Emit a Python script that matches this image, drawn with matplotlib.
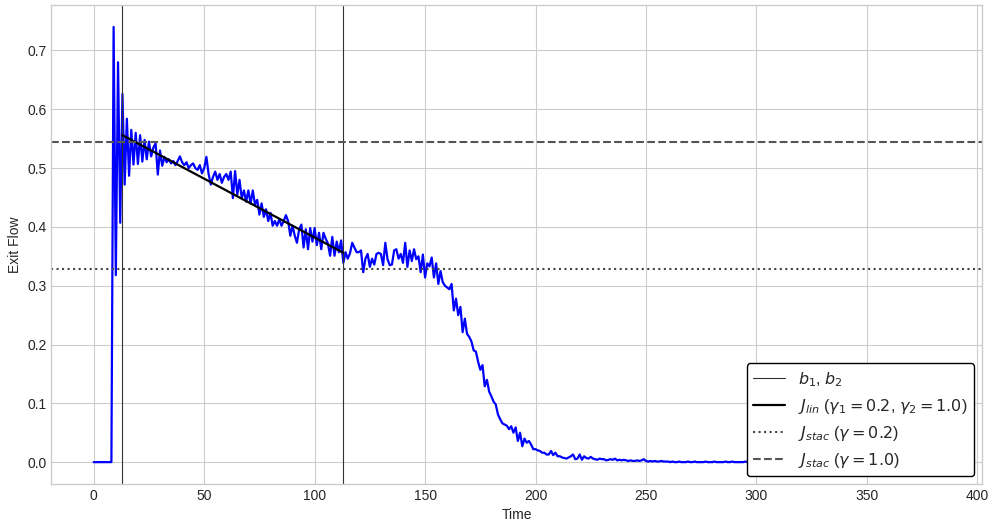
import numpy as np
import matplotlib
matplotlib.use("Agg")
import matplotlib.pyplot as plt

# exit flow per time step (t = 0, 1, 2, ...)
exit_flow = [
    0.0, 0.0, 0.0, 0.0, 0.0, 0.0, 0.0, 0.0, 0.0, 0.74,
    0.318, 0.68, 0.407, 0.626, 0.472, 0.584, 0.487, 0.565, 0.506, 0.560,
    0.507, 0.556, 0.511, 0.548, 0.515, 0.545, 0.520, 0.535, 0.542, 0.489,
    0.530, 0.504, 0.519, 0.510, 0.515, 0.508, 0.512, 0.505, 0.512, 0.520,
    0.510, 0.505, 0.510, 0.500, 0.505, 0.508, 0.500, 0.497, 0.505, 0.491,
    0.500, 0.519, 0.490, 0.472, 0.485, 0.494, 0.480, 0.490, 0.475, 0.485,
    0.490, 0.480, 0.494, 0.449, 0.495, 0.455, 0.480, 0.449, 0.462, 0.443,
    0.462, 0.440, 0.462, 0.438, 0.446, 0.421, 0.440, 0.417, 0.430, 0.410,
    0.424, 0.402, 0.410, 0.402, 0.413, 0.402, 0.410, 0.420, 0.410, 0.385,
    0.402, 0.385, 0.373, 0.396, 0.404, 0.365, 0.396, 0.362, 0.398, 0.375,
    0.398, 0.369, 0.390, 0.362, 0.390, 0.380, 0.372, 0.351, 0.383, 0.351,
    0.375, 0.357, 0.377, 0.339, 0.357, 0.346, 0.355, 0.373, 0.365, 0.357,
    0.357, 0.360, 0.323, 0.346, 0.354, 0.332, 0.346, 0.336, 0.354, 0.356,
    0.354, 0.335, 0.373, 0.345, 0.335, 0.336, 0.360, 0.362, 0.346, 0.354,
    0.339, 0.373, 0.332, 0.360, 0.342, 0.362, 0.345, 0.350, 0.323, 0.353,
    0.314, 0.338, 0.333, 0.348, 0.314, 0.338, 0.303, 0.325, 0.306, 0.300,
    0.297, 0.294, 0.303, 0.258, 0.278, 0.250, 0.264, 0.221, 0.244, 0.218,
    0.213, 0.205, 0.190, 0.188, 0.171, 0.157, 0.165, 0.129, 0.140, 0.120,
    0.112, 0.103, 0.098, 0.081, 0.073, 0.066, 0.064, 0.062, 0.056, 0.061,
    0.050, 0.059, 0.036, 0.050, 0.027, 0.040, 0.033, 0.036, 0.030, 0.022,
    0.022, 0.020, 0.019, 0.016, 0.016, 0.013, 0.013, 0.019, 0.012, 0.016,
    0.010, 0.010, 0.008, 0.007, 0.006, 0.008, 0.010, 0.013, 0.005, 0.006,
    0.013, 0.004, 0.010, 0.007, 0.006, 0.009, 0.006, 0.005, 0.004, 0.006,
    0.005, 0.005, 0.003, 0.004, 0.005, 0.004, 0.006, 0.003, 0.004, 0.003,
    0.004, 0.003, 0.002, 0.003, 0.002, 0.002, 0.003, 0.002, 0.003, 0.005,
    0.002, 0.001, 0.002, 0.001, 0.002, 0.001, 0.001, 0.002, 0.001, 0.001,
    0.001, 0.000, 0.001, 0.000, 0.000, 0.001, 0.000, 0.000, 0.000, 0.001,
    0.000, 0.000, 0.001, 0.000, 0.000, 0.000, 0.000, 0.001, 0.000, 0.000,
    0.000, 0.001, 0.000, 0.000, 0.000, 0.000, 0.001, 0.000, 0.000, 0.001,
    0.000, 0.000, 0.000, 0.000, 0.000, 0.001, 0.000, 0.000, 0.000, 0.000,
    0.000, 0.000, 0.001, 0.000, 0.000, 0.000, 0.000, 0.000, 0.000, 0.000,
    0.001, 0.000, 0.000, 0.000, 0.000, 0.000, 0.000, 0.000, 0.000, 0.000,
    0.000, 0.000, 0.000, 0.000, 0.001, 0.000, 0.000, 0.000, 0.000, 0.000,
    0.000, 0.000, 0.000, 0.000, 0.000, 0.000, 0.000, 0.000, 0.000, 0.000,
    0.000, 0.000, 0.000, 0.000, 0.000, 0.000, 0.000, 0.000, 0.000, 0.000,
    0.000, 0.000, 0.000, 0.000, 0.000, 0.000, 0.000, 0.000, 0.000, 0.000,
    0.000, 0.000, 0.000, 0.000, 0.000, 0.000, 0.000, 0.000, 0.000, 0.000,
    0.000, 0.000, 0.000, 0.000, 0.000, 0.000, 0.000, 0.000, 0.000, 0.000,
    0.000, 0.000, 0.000, 0.000,
]

# breakpoints and fitted / stationary flows
b1, b2 = 13, 113
jlin_b1, jlin_b2 = 0.556, 0.356
jstac_low = 0.329    # gamma = 0.2
jstac_high = 0.544   # gamma = 1.0

time = np.arange(len(exit_flow))

plt.style.use("seaborn-v0_8-whitegrid")
fig, ax = plt.subplots(figsize=(9.89, 5.22), dpi=100)
fig.subplots_adjust(left=0.052, right=0.993, top=0.99, bottom=0.073)

ax.plot(time, exit_flow, color="blue", linewidth=1.6)
ax.axvline(b1, color="#333333", linewidth=0.8, label="$b_1$, $b_2$")
ax.axvline(b2, color="#333333", linewidth=0.8)
ax.plot([b1, b2], [jlin_b1, jlin_b2], color="black", linewidth=1.6,
        label=r"$J_{lin}$ ($\gamma_1 = 0.2$, $\gamma_2 = 1.0$)")
ax.axhline(jstac_low, color="#444444", linestyle=":", linewidth=1.5,
           label=r"$J_{stac}$ ($\gamma = 0.2$)")
ax.axhline(jstac_high, color="#555555", linestyle="--", linewidth=1.5,
           label=r"$J_{stac}$ ($\gamma = 1.0$)")

ax.set_xlabel("Time", fontsize=10)
ax.set_ylabel("Exit Flow", fontsize=10)
ax.tick_params(labelsize=10)

leg = ax.legend(loc="lower right", frameon=True, fontsize=11.5, fancybox=True)
leg.get_frame().set_edgecolor("black")
leg.get_frame().set_linewidth(1.0)
leg.get_frame().set_alpha(1.0)

fig.savefig("out.png")
